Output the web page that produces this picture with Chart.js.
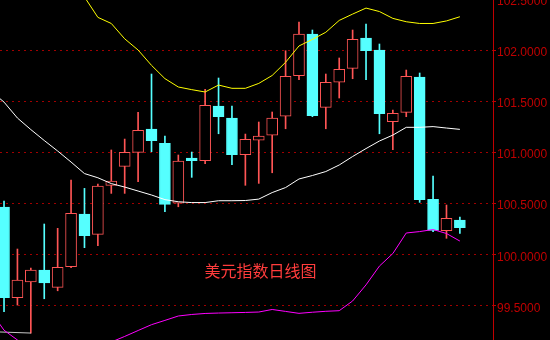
<!DOCTYPE html>
<html>
<head>
<meta charset="utf-8">
<title>美元指数日线图</title>
<script src="https://cdn.jsdelivr.net/npm/chart.js@4.4.1/dist/chart.umd.min.js"></script>
<style>
  html, body { margin: 0; padding: 0; background: #000; }
  canvas { display: block; }
</style>
</head>
<body>
<canvas id="kChart" width="550" height="340"></canvas>
<script>
const chartTitle = "美元指数日线图";

// Daily candles, left to right
const opens = [100.462, 99.574, 99.730, 99.845, 99.676, 99.878, 100.394, 100.195, 100.675, 100.861,
  100.998, 101.226, 101.086, 100.499, 100.942, 100.916, 101.452, 101.334, 100.975, 101.116,
  101.165, 101.351, 101.748, 102.157, 101.439, 101.684, 101.821, 102.118, 102.000, 101.298,
  101.390, 101.736, 100.538, 100.230, 100.335];
const highs = [100.521, 100.051, 99.865, 100.296, 100.254, 100.727, 100.645, 100.688, 101.021, 101.128,
  101.390, 101.765, 101.158, 100.972, 101.001, 101.615, 101.726, 101.452, 101.177, 101.295,
  101.393, 101.993, 102.274, 102.196, 101.765, 101.922, 102.196, 102.255, 102.059, 101.412,
  101.804, 101.775, 100.766, 100.482, 100.364];
const lows = [99.437, 99.502, 99.228, 99.564, 99.642, 99.868, 100.064, 100.083, 100.596, 100.596,
  100.710, 101.004, 100.416, 100.465, 100.753, 100.886, 101.180, 100.877, 100.675, 100.694,
  100.798, 101.229, 101.709, 101.347, 101.229, 101.530, 101.719, 101.709, 101.180, 101.024,
  101.347, 100.508, 100.220, 100.156, 100.205];
const closes = [99.574, 99.747, 99.845, 99.720, 99.872, 100.401, 100.181, 100.668, 100.717, 100.998,
  101.214, 101.112, 100.489, 100.913, 100.916, 101.458, 101.347, 100.975, 101.125, 101.158,
  101.334, 101.742, 102.157, 101.357, 101.684, 101.811, 102.105, 101.993, 101.376, 101.380,
  101.742, 100.534, 100.234, 100.352, 100.260];

// Bollinger bands; first value belongs to the day before the first candle
const upperBand = [103.45, 103.3, 103.2, 103.05, 102.9, 102.78, 102.65, 102.52, 102.32, 102.26,
  102.11, 102.0, 101.85, 101.72, 101.638, 101.612, 101.589, 101.657, 101.625, 101.625,
  101.673, 101.751, 101.88, 102.04, 102.104, 102.174, 102.29, 102.352, 102.411, 102.377,
  102.31, 102.277, 102.26, 102.26, 102.285, 102.326];
const middleBand = [101.6, 101.49, 101.334, 101.221, 101.114, 101.011, 100.903, 100.79, 100.749, 100.692,
  100.658, 100.619, 100.58, 100.535, 100.514, 100.506, 100.506, 100.524, 100.524, 100.526,
  100.54, 100.604, 100.653, 100.737, 100.771, 100.81, 100.874, 100.957, 101.035, 101.109,
  101.167, 101.243, 101.243, 101.25, 101.236, 101.223];
const lowerBand = [99.44, 99.256, 99.16, 99.08, 99.02, 99.0, 99.0, 99.03, 99.08, 99.14,
  99.195, 99.253, 99.31, 99.352, 99.395, 99.41, 99.42, 99.424, 99.427, 99.43,
  99.434, 99.459, 99.44, 99.421, 99.432, 99.441, 99.447, 99.542, 99.7, 99.884,
  100.007, 100.208, 100.222, 100.242, 100.203, 100.129];

// Lowest-price marker pointing at the low of the third candle
const lowMarkDays = [-0.6, 2];
const lowMarkValues = [99.24, 99.228];

const yTicks = [99.5, 100, 100.5, 101, 101.5, 102, 102.5];

// Colours
const RED = "#ff5555";
const CYAN = "#55ffff";
const AXIS = "#c00000";
const GRID = "#a00000";

const days = opens.map((_, i) => i);
const isUp = days.map(i => closes[i] >= opens[i]);
const candleColors = days.map(i => isUp[i] ? RED : CYAN);

const bodies = days.map(i => ({ x: i, y: [opens[i], closes[i]] }));
const upperWicks = days.map(i => ({ x: i, y: [Math.max(opens[i], closes[i]), highs[i]] }));
const lowerWicks = days.map(i => ({ x: i, y: [lows[i], Math.min(opens[i], closes[i])] }));

function bandPoints(values) {
  return values.map((v, i) => ({ x: i - 1, y: v }));
}

function lineSet(data, color) {
  return {
    type: "line",
    data,
    borderColor: color,
    borderWidth: 1,
    pointRadius: 0,
    tension: 0,
    fill: false,
    order: 0
  };
}

function wickSet(data) {
  return {
    data,
    backgroundColor: candleColors,
    borderWidth: 0,
    barThickness: 1,
    grouped: false,
    order: 2
  };
}

// Title text sits inside the plot area
const inlineTitle = {
  id: "inlineTitle",
  afterDatasetsDraw(chart) {
    const { ctx, scales } = chart;
    ctx.save();
    ctx.font = "16px 'Noto Sans CJK SC'";
    ctx.fillStyle = "#ff3c3c";
    ctx.textAlign = "center";
    ctx.textBaseline = "middle";
    ctx.fillText(chartTitle, scales.x.getPixelForValue(19.13), scales.y.getPixelForValue(99.835));
    ctx.restore();
  }
};

new Chart(document.getElementById("kChart"), {
  type: "bar",
  data: {
    datasets: [
      lineSet(bandPoints(upperBand), "#ffff00"),
      lineSet(bandPoints(middleBand), "#ffffff"),
      lineSet(bandPoints(lowerBand), "#ff00ff"),
      lineSet(lowMarkDays.map((d, i) => ({ x: d, y: lowMarkValues[i] })), "#c8c8c8"),
      {
        data: bodies,
        backgroundColor: days.map(i => isUp[i] ? "#000000" : CYAN),
        borderColor: candleColors,
        borderWidth: 1,
        borderSkipped: false,
        barThickness: 11,
        grouped: false,
        order: 1
      },
      wickSet(upperWicks),
      wickSet(lowerWicks)
    ]
  },
  options: {
    responsive: false,
    animation: false,
    layout: { padding: 0 },
    plugins: {
      legend: { display: false },
      tooltip: { enabled: false },
      title: { display: false }
    },
    scales: {
      x: { type: "linear", display: false, min: -0.3, max: 36.47, offset: false },
      y: {
        position: "right",
        min: 99.16,
        max: 102.49,
        afterBuildTicks: s => { s.ticks = yTicks.map(v => ({ value: v })); },
        afterFit: s => {
          // plot runs to the top and bottom edges, labels may overflow
          s.width = 57;
          s.paddingTop = 0;
          s.paddingBottom = 0;
        },
        grid: { color: GRID, lineWidth: 1, drawTicks: true, tickLength: 3, tickColor: AXIS },
        border: { display: true, color: AXIS, width: 1, dash: [2, 4] },
        ticks: {
          color: AXIS,
          padding: 1,
          labelOffset: 3,
          font: { family: "'Liberation Sans', Arial, sans-serif", size: 12 },
          callback: v => Number(v).toFixed(4)
        }
      }
    }
  },
  plugins: [inlineTitle]
});
</script>
</body>
</html>
